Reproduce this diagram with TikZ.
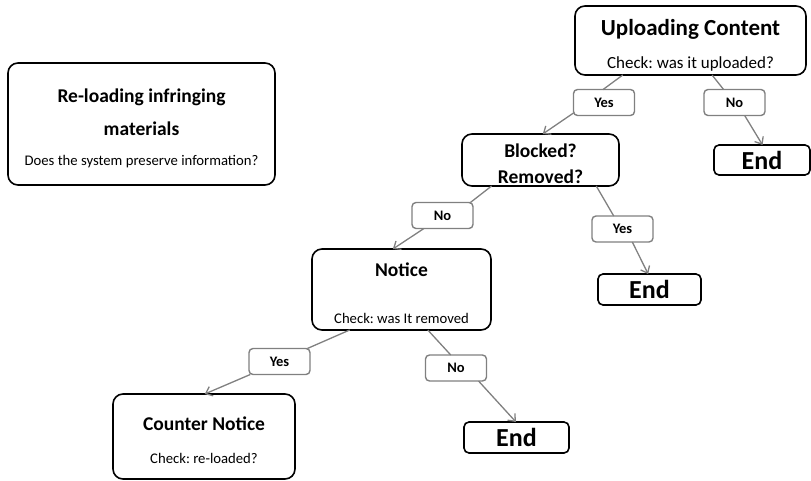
\documentclass[tikz,border=0pt]{standalone}
\usepackage{fontspec}
\setmainfont{Carlito}
\usetikzlibrary{arrows.meta}
\newcommand{\ttl}{\fontsize{19.5}{23}\selectfont\bfseries\rule{0pt}{21.5pt}}
\newcommand{\ttlx}{\fontsize{19.5}{23}\selectfont\bfseries}
\newcommand{\chk}{\fontsize{14.7}{17}\selectfont}
\frenchspacing
\begin{document}
\begin{tikzpicture}[x=1pt,y=-1pt,
  box/.style={draw=black,line width=1.6pt,rounded corners=10pt,align=center,inner sep=0pt,outer sep=0pt},
  endbox/.style={box,rounded corners=5pt,font=\fontsize{26}{30}\selectfont\bfseries},
  lab/.style={draw=gray,line width=1.4pt,rounded corners=4pt,minimum width=61pt,minimum height=26pt,
    font=\fontsize{14.5}{16}\selectfont\bfseries,inner sep=0pt,outer sep=0pt},
  link/.style={draw=gray,line width=1.3pt},
  arr/.style={link,-{Straight Barb[length=6pt,width=10pt]}}]
  \useasboundingbox (0,0) rectangle (811,481);
  % boxes
  \node[box,minimum width=231pt,minimum height=69pt] (up) at (690.5,40.5)
    {{\fontsize{23}{27}\selectfont\bfseries\rule{0pt}{26pt}Uploading Content}\\[17pt]
     {\fontsize{17}{20}\selectfont Check: was it uploaded?}};
  \node[box,minimum width=267pt,minimum height=122pt] (rel) at (141.5,124)
    {{\ttl Re-loading infringing}\\[15pt]{\ttlx materials}\\[18pt]{\chk Does the system preserve information?}};
  \node[box,minimum width=157pt,minimum height=52pt] (blk) at (540.5,160)
    {{\ttl Blocked?}\\[11pt]{\ttlx Removed?}};
  \node[box,minimum width=179pt,minimum height=81pt] (ntc) at (401.5,289.5)
    {{\ttl Notice}\\[35pt]{\chk Check: was It removed}};
  \node[box,minimum width=182pt,minimum height=85pt] (ctr) at (204,436.5)
    {{\ttl Counter Notice}\\[21pt]{\chk Check: re-loaded?}};
  \node[endbox,minimum width=96pt,minimum height=30pt] (end1) at (762,160) {End};
  \node[endbox,minimum width=103pt,minimum height=31pt] (end2) at (649.5,289.5) {End};
  \node[endbox,minimum width=105pt,minimum height=31pt] (end3) at (516.5,437.5) {End};
  % labels
  \node[lab] (yes1) at (604,102.5) {Yes};
  \node[lab] (no1) at (734.5,102.5) {No};
  \node[lab] (no2) at (442.5,215.5) {No};
  \node[lab] (yes2) at (622.5,229) {Yes};
  \node[lab] (yes3) at (279.5,361.5) {Yes};
  \node[lab] (no3) at (456,368) {No};
  % connectors
  \draw[link] (up.207) -- (yes1.94);
  \draw[arr] (yes1.199) -- (blk.85);
  \draw[link] (up.302) -- (no1.130);
  \draw[arr] (no1.308) -- (end1.88);
  \draw[link] (blk.208) -- (no2.25);
  \draw[arr] (no2.215) -- (ntc.102);
  \draw[link] (blk.335) -- (yes2.124);
  \draw[arr] (yes2.307) -- (end2.95);
  \draw[link] (ntc.218) -- (yes3.25);
  \draw[arr] (yes3.204) -- (ctr.89);
  \draw[link] (ntc.303) -- (no3.112);
  \draw[arr] (no3.330) -- (end3.92);
\end{tikzpicture}
\end{document}
